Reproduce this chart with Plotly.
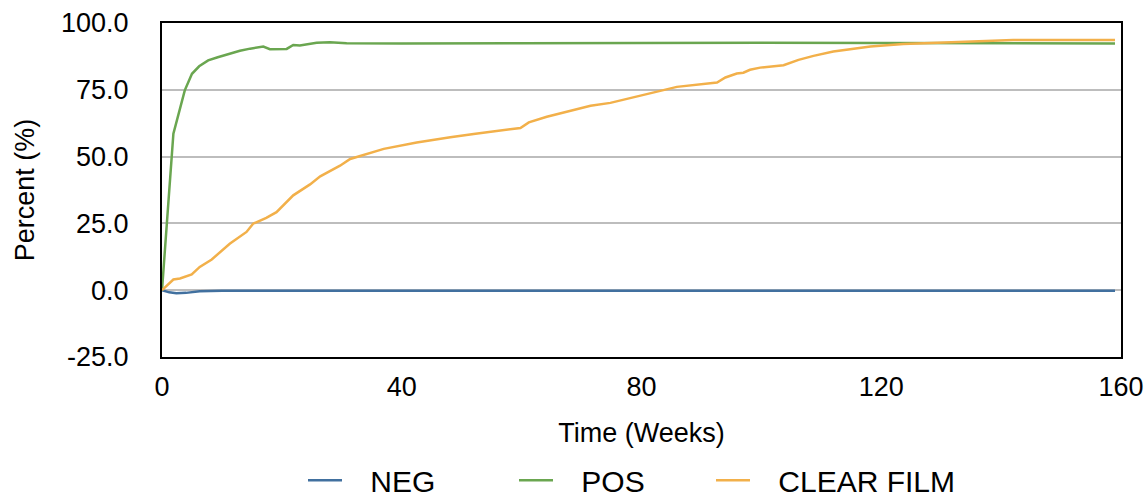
import plotly.graph_objects as go

# ---- data ----
neg_weeks = [0, 1.2, 2.4, 4, 6.3, 10, 20, 40, 60, 80, 100, 120, 140, 159]
neg_values = [0, -0.8, -1.1, -1.0, -0.4, -0.2, -0.2, -0.2, -0.2, -0.2, -0.2, -0.2, -0.2, -0.2]

pos_weeks = [0, 1.9, 3.8, 5, 6.2, 7.7, 9.3, 11.3, 13, 14.7, 16, 16.9, 18, 20.8, 21.9, 23,
             25.8, 28, 30.8, 40, 60, 80, 100, 120, 140, 159]
pos_values = [0, 58.6, 74.8, 81, 83.8, 86, 87.2, 88.6, 89.6, 90.4, 90.8, 91.2, 90.2, 90.3, 91.8, 91.6,
              92.6, 92.8, 92.4, 92.3, 92.4, 92.6, 92.6, 92.5, 92.4, 92.3]

film_weeks = [0, 1.9, 3, 4.96, 6.3, 8.3, 11.3, 14.1, 15.2, 17.4, 19.1, 21.9, 24.7, 26.4, 29.7,
              31.4, 37, 42.5, 48.1, 52, 59.8, 61.2, 64.2, 68.7, 71.5, 74.8, 79.8, 84.2, 85.9,
              92.6, 94, 95.9, 97, 98.1, 99.8, 103.7, 106.2, 108.7, 112, 114.8, 118.2, 123.7,
              131, 136.5, 142, 159]
film_values = [0, 4, 4.4, 5.9, 8.7, 11.5, 17.4, 21.8, 24.9, 27.1, 29.2, 35.5, 39.6, 42.6, 46.6,
               49.1, 52.9, 55.3, 57.2, 58.5, 60.7, 62.8, 64.9, 67.4, 69, 70.1, 72.8, 74.9, 76.1,
               77.7, 79.6, 81.1, 81.4, 82.5, 83.3, 84.2, 86.2, 87.7, 89.3, 90.2, 91.2, 92.1,
               92.7, 93.3, 93.6, 93.6]

series_names = ["NEG", "POS", "CLEAR FILM"]
colors = ["#41709f", "#6aa650", "#f2b04a"]

x_ticks = [0, 40, 80, 120, 160]
y_ticks = [-25, 0, 25, 50, 75, 100]

legend_ids = ["legend", "legend2", "legend3"]
legend_px = [303, 514, 711]  # left pixel of each legend entry
pad = "\u2002\u00a0"  # spacing between legend line and label

fig = go.Figure()
for name, xs, ys, c, lg in zip(series_names,
                               [neg_weeks, pos_weeks, film_weeks],
                               [neg_values, pos_values, film_values],
                               colors, legend_ids):
    fig.add_trace(go.Scatter(x=xs, y=ys, mode="lines", name=pad + name, legend=lg,
                             line=dict(color=c, width=2.5)))

font = "Liberation Sans, Arial, Helvetica, sans-serif"
fig.update_layout(
    width=1146, height=498,
    margin=dict(l=162, r=25, t=23, b=141, autoexpand=False),
    paper_bgcolor="white", plot_bgcolor="white",
    font=dict(family=font, size=27, color="black"),
    showlegend=True,
    xaxis=dict(range=[0, 160], tickvals=x_ticks, ticktext=[str(v) for v in x_ticks],
               showgrid=False, zeroline=False, showline=True, linecolor="black",
               linewidth=2, mirror=True, ticks="", tickfont=dict(size=27),
               ticklabelstandoff=5,
               title=dict(text="Time (Weeks)", font=dict(size=27), standoff=22)),
    yaxis=dict(range=[-25, 100], tickvals=y_ticks, ticktext=[f"{v:.1f}" for v in y_ticks],
               showgrid=True, gridcolor="#bdbdbd", gridwidth=2,
               zeroline=True, zerolinecolor="#bdbdbd", zerolinewidth=2,
               showline=True, linecolor="black", linewidth=2, mirror=True, ticks="",
               tickfont=dict(size=27), ticklabelstandoff=26,
               title=dict(text="Percent (%)", font=dict(size=27), standoff=19)),
)
for lg, px in zip(legend_ids, legend_px):
    fig.update_layout({lg: dict(orientation="h", x=(px - 162) / 959, xanchor="left",
                                y=-0.369, yanchor="middle", font=dict(size=30),
                                itemwidth=34, bgcolor="rgba(0,0,0,0)")})

fig.write_html("out.html", config={"displayModeBar": False},
               post_script="document.body.style.margin='0px';document.body.style.overflow='hidden';")
